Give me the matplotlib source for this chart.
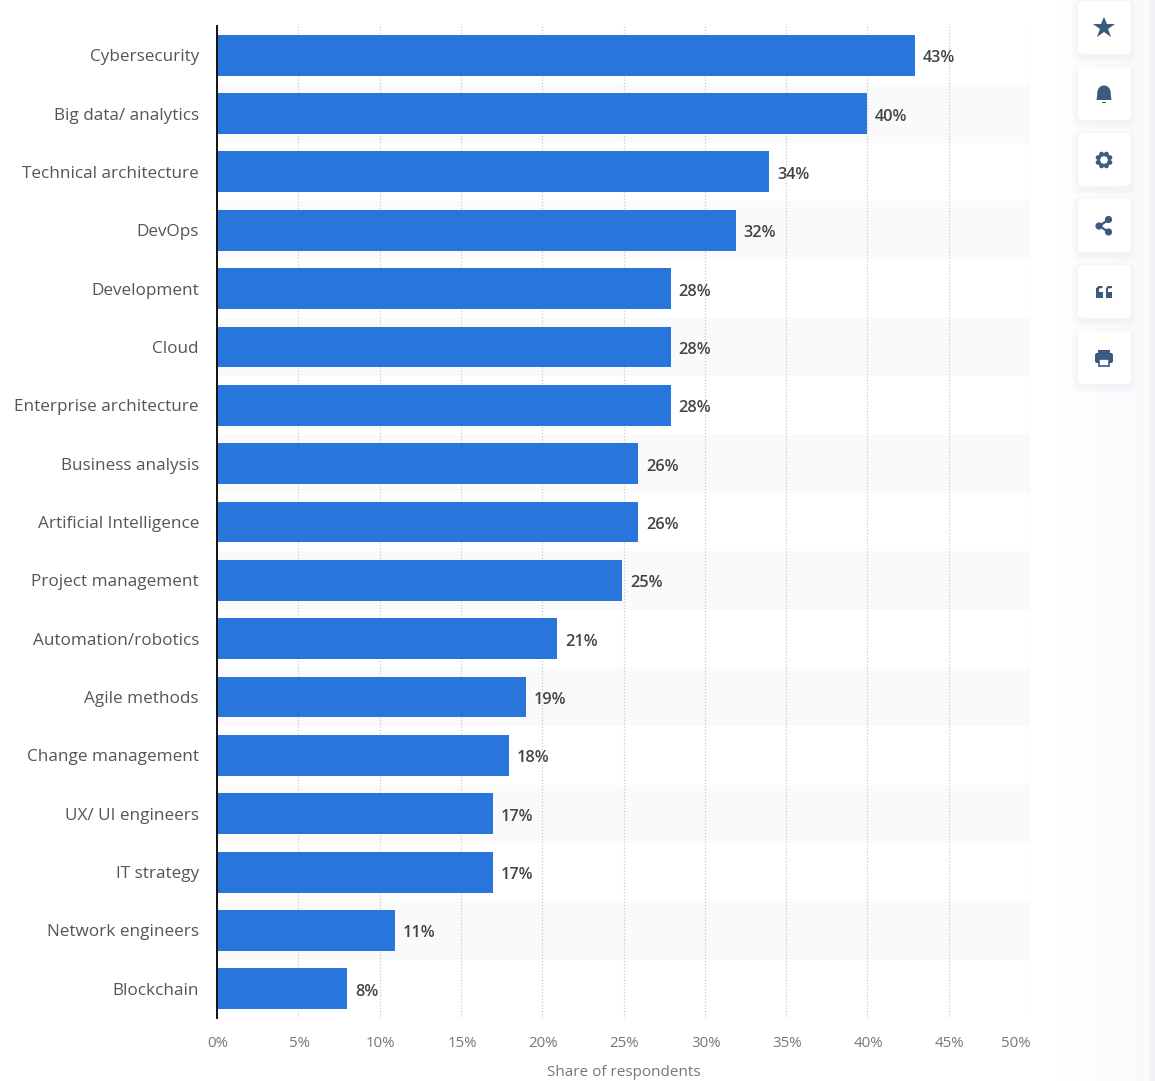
import matplotlib
matplotlib.use("Agg")
import matplotlib.pyplot as plt
import numpy as np
from matplotlib.patches import Circle, FancyBboxPatch, Rectangle, Polygon
from matplotlib.transforms import ScaledTranslation

plt.rcParams["font.family"] = ["Open Sans", "DejaVu Sans"]

categories = [
    "Cybersecurity", "Big data/ analytics", "Technical architecture", "DevOps",
    "Development", "Cloud", "Enterprise architecture", "Business analysis",
    "Artificial Intelligence", "Project management", "Automation/robotics",
    "Agile methods", "Change management", "UX/ UI engineers", "IT strategy",
    "Network engineers", "Blockchain",
]
# bar lengths, labels as printed
shares = [42.9, 39.95, 33.95, 31.9, 27.9, 27.9, 27.9, 25.9, 25.9, 24.9, 20.9, 19, 17.95, 16.95, 16.95, 10.95, 8]
share_labels = ["43%", "40%", "34%", "32%", "28%", "28%", "28%", "26%", "26%", "25%", "21%", "19%", "18%", "17%", "17%", "11%", "8%"]
x_ticks = [0, 5, 10, 15, 20, 25, 30, 35, 40, 45, 50]

W, H = 1155, 1081
BAR = "#2875dc"
ICON = "#3a5a80"

fig = plt.figure(figsize=(W / 100, H / 100), dpi=100, facecolor="white")
ax = fig.add_axes([217 / W, 1 - 1018 / H, 813 / W, 992 / H])
ax.set_xlim(0, 50)
ax.set_ylim(len(categories) - 0.5, -0.5)

# alternating row bands
for i in range(1, len(categories), 2):
    ax.axhspan(i - 0.5, i + 0.5, color="#fafafa", lw=0, zorder=0)

ax.barh(range(len(categories)), shares, height=0.70, color=BAR, zorder=3)
for i, (v, lab) in enumerate(zip(shares, share_labels)):
    ax.annotate(lab, (v, i), xytext=(8, -3), textcoords="offset pixels",
                va="center", ha="left", fontsize=11.7, fontweight="semibold",
                color="#444444", zorder=4)

ax.set_xticks(x_ticks)
ax.set_xticklabels([f"{t}%" for t in x_ticks], fontsize=10.8, color="#777777")
ax.set_yticks(range(len(categories)))
ax.set_yticklabels(categories, fontsize=12.3, color="#555555")
ax.tick_params(axis="both", length=0)
ax.tick_params(axis="x", pad=13)
ax.tick_params(axis="y", pad=13)
shift = ScaledTranslation(1 / 100, 0, fig.dpi_scale_trans)
for lab in ax.get_xticklabels():
    lab.set_transform(lab.get_transform() + shift)
ax.get_xticklabels()[-1].set_ha("right")
ax.set_xlabel("Share of respondents", fontsize=11, color="#777777", labelpad=10)
ax.grid(axis="x", color="#cccccc", ls=(0, (1, 1.5)), lw=0.9, zorder=1)
ax.set_axisbelow(True)
for s in ["top", "right", "bottom"]:
    ax.spines[s].set_visible(False)
ax.spines["left"].set_color("#111111")
ax.spines["left"].set_linewidth(1.4)
ax.spines["left"].set_zorder(5)

# side toolbar, in pixel coordinates
ov = fig.add_axes([0, 0, 1, 1], facecolor="none")
ov.set_xlim(0, W)
ov.set_ylim(H, 0)
ov.axis("off")
# faint panel that fades in towards the right edge
fade = np.linspace(0, 1, 90).reshape(1, -1)
ov.imshow(fade, extent=(1060, 1150, H, 0), cmap=matplotlib.colors.LinearSegmentedColormap.from_list(
    "panel", ["#ffffff", "#f8fafc"]), aspect="auto", zorder=0)
ov.add_patch(Rectangle((1150, 0), 5, H, color="#eff1f5", lw=0, zorder=0))
ov.set_xlim(0, W)
ov.set_ylim(H, 0)
centers = [28, 94, 160, 226, 292, 358]
for cy in centers:
    for grow, a in [(6, 0.2), (4, 0.25), (2, 0.35)]:
        ov.add_patch(FancyBboxPatch((1078 - grow, cy - 26 - grow + 2), 53 + 2 * grow, 53 + 2 * grow,
                                    boxstyle="round,pad=0,rounding_size=7",
                                    fc="#eef0f4", alpha=a, ec="none", lw=0, zorder=1))
    ov.add_patch(FancyBboxPatch((1078, cy - 27), 53, 53, boxstyle="round,pad=0,rounding_size=5",
                                fc="white", ec="none", lw=0, zorder=2))
cx = 1104
# star
ov.plot([cx], [28], marker="*", ms=16.5, color=ICON, mew=0, zorder=3)
# bell
ov.add_patch(Circle((cx, 92), 6.5, color=ICON, lw=0, zorder=3))
ov.add_patch(Polygon([(cx - 6.5, 92), (cx + 6.5, 92), (cx + 7.5, 100), (cx - 7.5, 100)],
                     color=ICON, lw=0, zorder=3))
ov.add_patch(Rectangle((cx - 2, 101.5), 4, 1.5, color=ICON, lw=0, zorder=3))
# gear
ov.add_patch(Circle((cx, 160), 7, color=ICON, lw=0, zorder=3))
for ang in np.deg2rad(np.arange(0, 360, 45) + 22.5):
    ov.add_patch(Circle((cx + 6.6 * np.cos(ang), 160 + 6.6 * np.sin(ang)), 2.2, color=ICON, lw=0, zorder=3))
ov.add_patch(Circle((cx, 160), 3.8, color="white", lw=0, zorder=4))
# share
ov.plot([cx + 4.5, cx - 4.5, cx + 4.5], [219.5, 226, 232], color=ICON, lw=1.6, zorder=3)
for sx, sy, r in [(cx + 4.5, 219.5, 3.6), (cx - 5, 226, 3.6), (cx + 4.5, 232, 3.6)]:
    ov.add_patch(Circle((sx, sy), r, color=ICON, lw=0, zorder=3))
# quote
for qx in (cx - 8, cx + 1.5):
    ov.add_patch(Rectangle((qx, 291.5), 6.5, 6.5, color=ICON, lw=0, zorder=3))
    ov.add_patch(Rectangle((qx, 288), 2.5, 5, color=ICON, lw=0, zorder=3))
    ov.add_patch(Polygon([(qx, 288.5), (qx + 2.5, 286), (qx + 6.5, 286), (qx + 6.5, 288), (qx + 2.5, 288.5)],
                         color=ICON, lw=0, zorder=3))
# printer
ov.add_patch(FancyBboxPatch((cx - 9, 353), 18, 10, boxstyle="round,pad=0,rounding_size=2",
                            fc=ICON, ec="none", zorder=3))
ov.add_patch(Rectangle((cx - 6, 349.5), 12, 5, color=ICON, lw=0, zorder=3))
ov.add_patch(Rectangle((cx - 5, 359), 10, 7, fc="white", ec=ICON, lw=1.2, zorder=4))

fig.savefig("out.png", dpi=100)
